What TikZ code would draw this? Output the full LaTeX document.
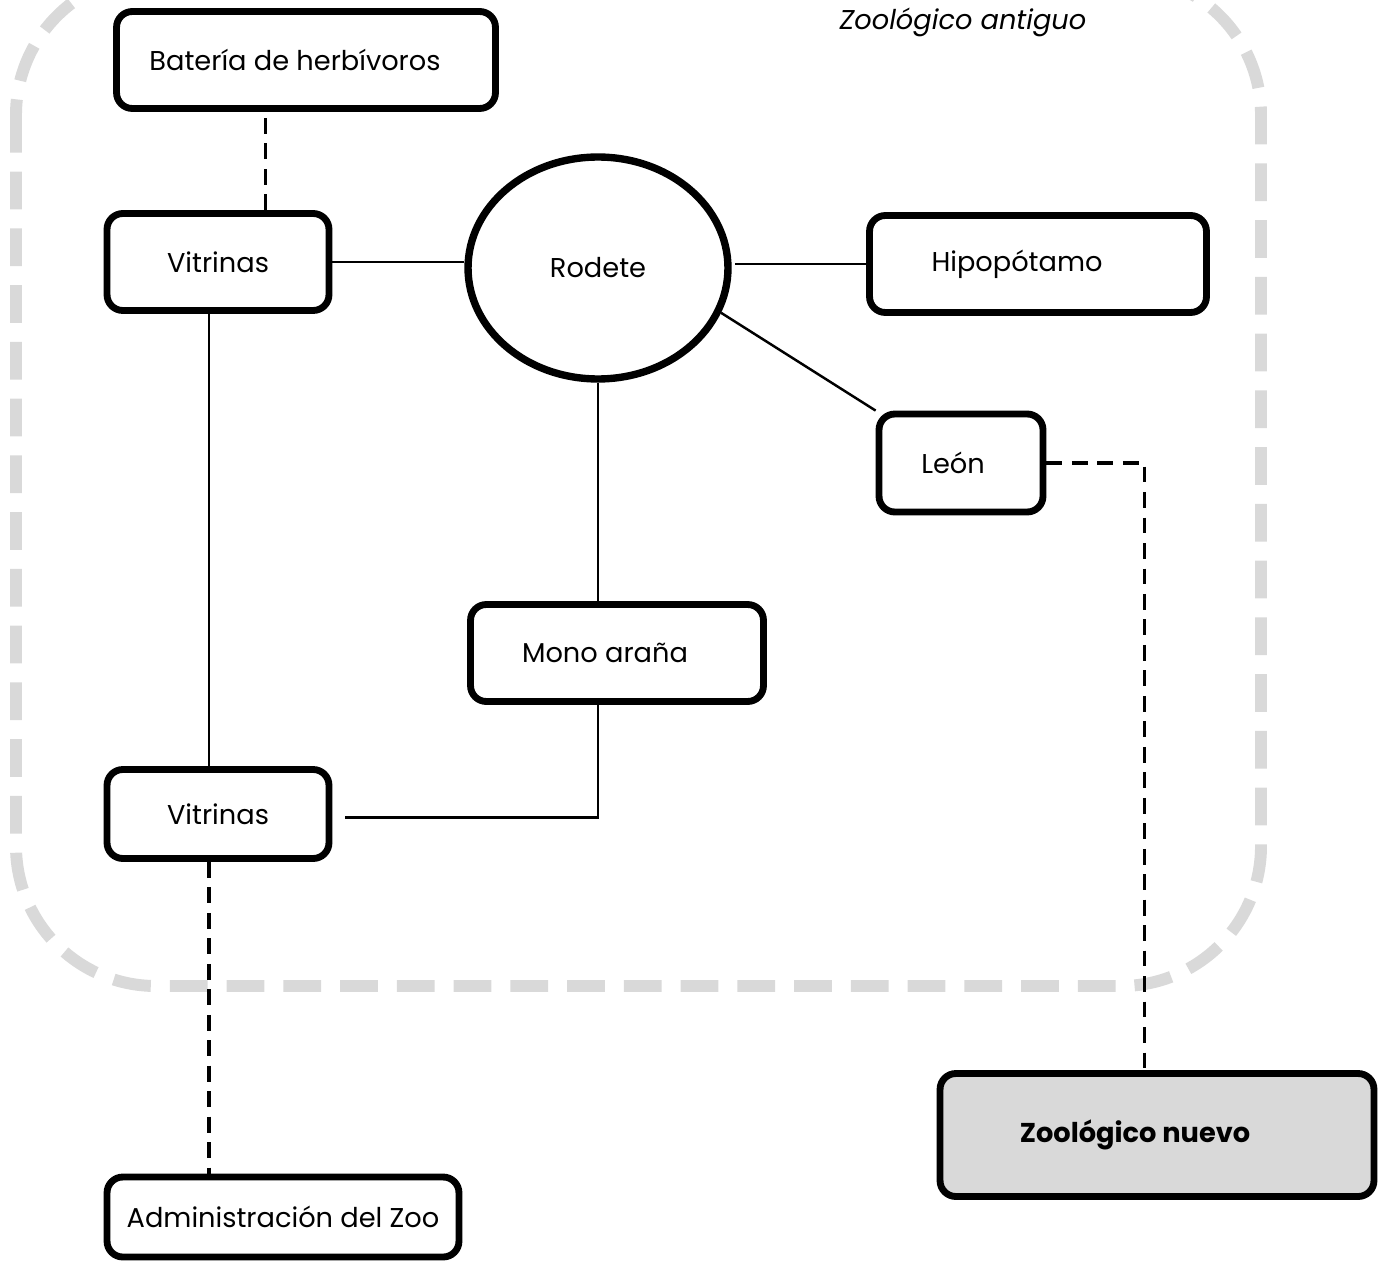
\documentclass[tikz,border=0pt]{standalone}
\usepackage{fontspec}
\setmainfont{Poppins}
\usetikzlibrary{shapes.geometric}
\definecolor{frameGray}{RGB}{217,217,217}
\definecolor{boxGray}{RGB}{217,217,217}

\tikzset{
  zoobox/.style={draw=black, line width=3.9pt, rounded corners=9pt, fill=white,
    inner sep=0pt, font=\fontsize{15.5}{18}\selectfont},
  link/.style={draw=black, line width=1.4pt},
  dashlink/.style={draw=black, line width=2pt, dash pattern=on 9pt off 5.5pt},
  zooframe/.style={draw=frameGray, line width=6.8pt, rounded corners=2.8cm,
    dash pattern=on 21.5pt off 10.8pt}
}

\begin{document}
\begin{tikzpicture}[x=0.02cm, y=-0.02cm]
		\useasboundingbox (0,0) rectangle (1381,1263);
		
		% Old zoo frame
		\draw[zooframe] (16,-25) rectangle (1261,986);
		\node (title) at (963,22) {\fontsize{15.5}{18}\selectfont\itshape Zoológico antiguo};
		
		% Places
		\begin{scope}[every node/.style={zoobox}]
			\node (herb) at (306,60) [minimum width=7.58cm, minimum height=1.94cm] {Batería de herbívoros\hspace*{0.44cm}};
			\node (vit1) at (218,262) [minimum width=4.44cm, minimum height=1.94cm] {Vitrinas};
			\node (rodete) at (598,268) [ellipse, line width=4.2pt, minimum width=5.2cm, minimum height=4.44cm] {Rodete};
			\node (hipo) at (1038,264) [minimum width=6.74cm, minimum height=1.94cm] {Hipopótamo\hspace*{0.84cm}};
			\node (leon) at (961,463) [minimum width=3.28cm, minimum height=1.96cm] {León\hspace*{0.32cm}};
			\node (mono) at (617,653) [minimum width=5.86cm, minimum height=1.94cm] {Mono araña\hspace*{0.48cm}};
			\node (vit2) at (218,814) [minimum width=4.44cm, minimum height=1.78cm] {Vitrinas};
			\node (admin) at (283,1217) [minimum width=7.04cm, minimum height=1.6cm] {Administración del Zoo};
			\node (nuevo) at (1157,1135) [minimum width=8.68cm, minimum height=2.46cm, fill=boxGray, font=\fontsize{15.5}{18}\selectfont\bfseries] {Zoológico nuevo\hspace*{0.88cm}};
		\end{scope}
		
		% Paths
		\draw[dashlink] ([xshift=27pt]vit1.north) -- ([xshift=27pt]vit1.north |- herb.south);
		\draw[link] (vit1.east) -- (vit1.east -| rodete.west);
		\draw[link] ([xshift=2pt]hipo.west -| rodete.east) -- (hipo.west);
		\draw[link] (rodete.-20) -- (leon.north west);
		\draw[link] (rodete.south) -- (rodete.south |- mono.north);
		\draw[link] ([xshift=-5pt]vit1.south) -- ([xshift=-5pt]vit2.north);
		\draw[link] (mono.south -| rodete.south) |- ([xshift=7pt,yshift=-2pt]vit2.east);
		\draw[dashlink] (leon.east) -| ([xshift=-7pt]nuevo.north);
		\draw[dashlink] ([xshift=-5pt]vit2.south) -- ([xshift=-5pt]vit2.south |- admin.north);
	\end{tikzpicture}
\end{document}
